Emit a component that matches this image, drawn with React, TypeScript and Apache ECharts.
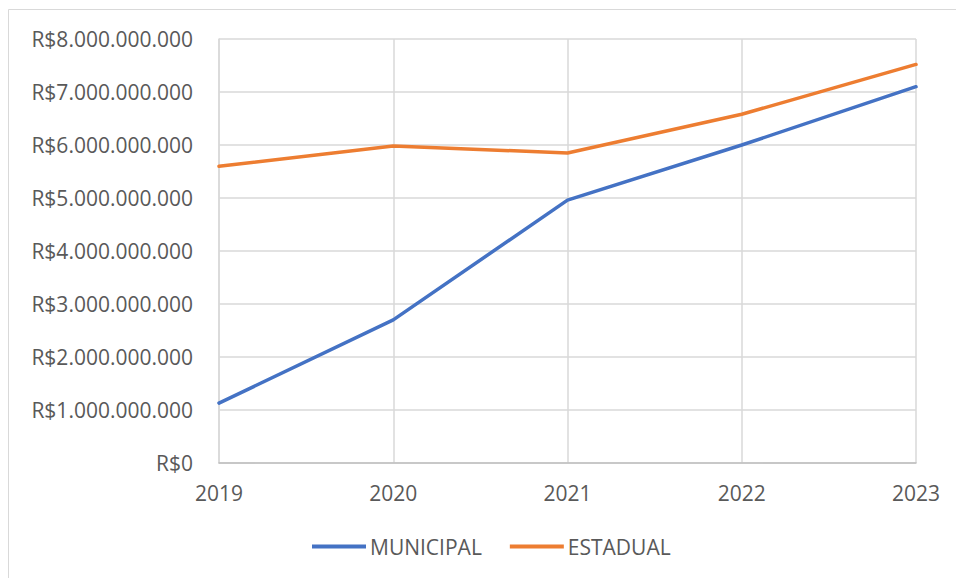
import React, { useEffect, useRef } from "react";
import * as echarts from "echarts";

const years = ["2019", "2020", "2021", "2022", "2023"];
const municipal = [1.13e9, 2.7e9, 4.96e9, 6.0e9, 7.1e9];
const estadual = [5.6e9, 5.98e9, 5.85e9, 6.58e9, 7.52e9];
const seriesNames = ["MUNICIPAL", "ESTADUAL"];

const FONT = "'Open Sans', sans-serif";
const TXT = "#595959";
const FS = 21;

function fmt(v: number): string {
  if (v === 0) return "R$0";
  const s = Math.round(v).toString().replace(/\B(?=(\d{3})+(?!\d))/g, ".");
  return "R$" + s;
}

export default function App() {
  const ref = useRef<HTMLDivElement>(null);
  useEffect(() => {
    if (!ref.current) return;
    const chart = echarts.init(ref.current, undefined, { renderer: "svg" });
    chart.setOption({
      animation: false,
      backgroundColor: "#ffffff",
      graphic: [
        {
          type: "rect",
          shape: { x: 8.5, y: 9.5, width: 960, height: 580 },
          style: { fill: "none", stroke: "#d9d9d9", lineWidth: 1 },
          silent: true,
        },
      ],
      grid: { left: 219, right: 40, top: 39, bottom: 115 },
      legend: {
        bottom: 16,
        left: 307,
        data: seriesNames,
        icon: "rect",
        itemWidth: 54,
        itemHeight: 4,
        itemGap: 28,
        textStyle: { color: TXT, fontFamily: FONT, fontSize: FS, padding: [0, 0, 0, -1] },
      },
      xAxis: {
        type: "category",
        data: years,
        boundaryGap: false,
        axisLine: { show: true, lineStyle: { color: "#bfbfbf", width: 1.5 } },
        axisTick: { show: false },
        axisLabel: { color: TXT, fontFamily: FONT, fontSize: FS, margin: 19 },
        splitLine: { show: true, lineStyle: { color: "#d9d9d9", width: 1.5 } },
      },
      yAxis: {
        type: "value",
        min: 0,
        max: 8e9,
        interval: 1e9,
        axisLine: { show: true, lineStyle: { color: "#d9d9d9", width: 1.5 } },
        axisTick: { show: false },
        axisLabel: {
          color: TXT,
          fontFamily: FONT,
          fontSize: FS,
          margin: 26,
          formatter: (v: number) => fmt(v),
        },
        splitLine: { show: true, lineStyle: { color: "#d9d9d9", width: 1.5 } },
      },
      series: [
        {
          name: seriesNames[0],
          type: "line",
          data: municipal,
          symbol: "none",
          lineStyle: { color: "#4472C4", width: 3.5, cap: "round" },
          itemStyle: { color: "#4472C4" },
        },
        {
          name: seriesNames[1],
          type: "line",
          data: estadual,
          symbol: "none",
          lineStyle: { color: "#ED7D31", width: 3.5, cap: "round" },
          itemStyle: { color: "#ED7D31" },
        },
      ],
    });
    return () => chart.dispose();
  }, []);
  return (
    <div
      ref={ref}
      style={{ position: "fixed", left: 0, top: 0, width: 956, height: 578 }}
    />
  );
}
